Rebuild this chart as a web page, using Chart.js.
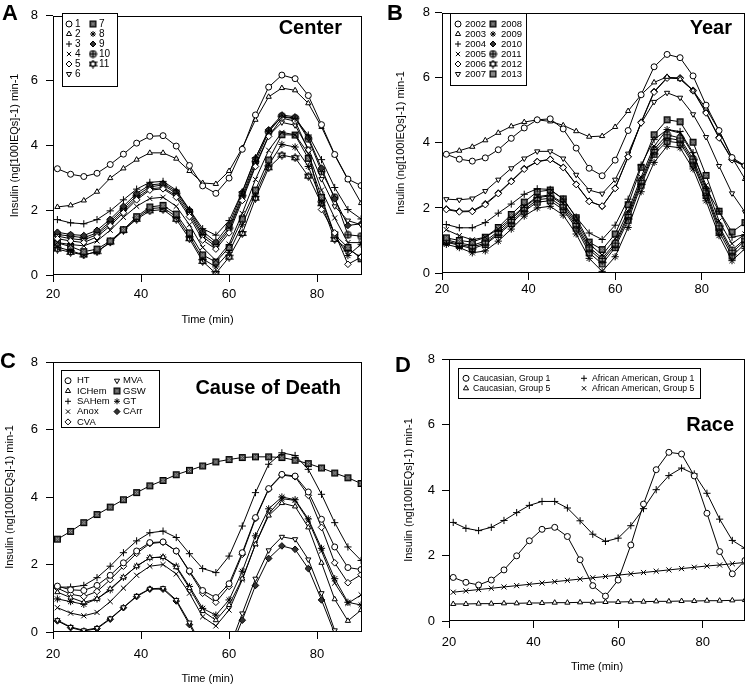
<!DOCTYPE html>
<html lang="en">
<head>
<meta charset="UTF-8">
<title>Insulin secretion curves</title>
<script src="https://cdn.jsdelivr.net/npm/chart.js"></script>
<style>
    body {
        margin: 0;
        background: #fff;
        font-family: "Liberation Sans", Arial, sans-serif;
        color: #000;
    }
    #page {
        position: relative;
        width: 750px;
        height: 685px;
        overflow: hidden;
    }
    canvas { position: absolute; }
    .letter {
        position: absolute;
        font-size: 22px;
        font-weight: bold;
        line-height: 1;
    }
    .ptitle {
        position: absolute;
        font-size: 20px;
        font-weight: bold;
        line-height: 1;
        white-space: nowrap;
    }
</style>
</head>
<body>
<div id="page">
    <canvas id="chartA" width="375" height="335" style="left:0;top:0"></canvas>
    <canvas id="chartB" width="375" height="320" style="left:375px;top:0"></canvas>
    <canvas id="chartC" width="375" height="350" style="left:0;top:340px"></canvas>
    <canvas id="chartD" width="375" height="350" style="left:375px;top:340px"></canvas>

    <div class="letter" style="left:2px;top:2px">A</div>
    <div class="letter" style="left:387px;top:2px">B</div>
    <div class="letter" style="left:0;top:350px">C</div>
    <div class="letter" style="left:395px;top:354px">D</div>

    <div class="ptitle" style="right:408px;top:17px">Center</div>
    <div class="ptitle" style="right:18px;top:17px">Year</div>
    <div class="ptitle" style="right:409px;top:377px">Cause of Death</div>
    <div class="ptitle" style="right:16px;top:414px">Race</div>
</div>

<script>
// time points (min)
const times = [21, 24, 27, 30, 33, 36, 39, 42, 45, 48, 51, 54, 57, 60, 63, 66, 69, 72, 75, 78, 81, 84, 87, 90];
const xTicks = [20, 40, 60, 80];
const yTicks = [0, 2, 4, 6, 8];

// A - center
const centerLabels = ['1', '2', '3', '4', '5', '6', '7', '8', '9', '10', '11'];
const centerValues = [
    [3.28, 3.11, 3.04, 3.14, 3.41, 3.73, 4.07, 4.28, 4.30, 3.98, 3.38, 2.75, 2.52, 2.99, 3.88, 4.94, 5.80, 6.17, 6.06, 5.54, 4.64, 3.72, 2.96, 2.76],
    [2.10, 2.15, 2.30, 2.57, 2.99, 3.29, 3.56, 3.77, 3.77, 3.59, 3.21, 2.84, 2.81, 3.21, 3.92, 4.79, 5.50, 5.77, 5.70, 5.30, 4.57, 3.70, 2.94, 2.22],
    [1.71, 1.61, 1.58, 1.71, 1.98, 2.32, 2.65, 2.86, 2.89, 2.62, 2.02, 1.43, 1.23, 1.68, 2.57, 3.62, 4.45, 4.88, 4.82, 4.32, 3.56, 2.70, 2.02, 1.73],
    [1.00, 0.94, 0.90, 1.05, 1.38, 1.78, 2.12, 2.36, 2.40, 2.12, 1.55, 0.85, 0.45, 0.95, 1.90, 2.95, 3.85, 4.40, 4.33, 3.75, 2.62, 1.76, 1.00, 1.00],
    [1.12, 1.05, 1.00, 1.18, 1.52, 1.92, 2.32, 2.62, 2.66, 2.40, 1.80, 1.08, 0.80, 1.30, 2.30, 3.35, 4.28, 4.84, 4.75, 3.85, 2.02, 1.30, 0.33, 0.55],
    [1.20, 1.12, 1.08, 1.25, 1.58, 1.98, 2.38, 2.66, 2.70, 2.45, 1.88, 1.18, 0.88, 1.38, 2.38, 3.40, 4.30, 4.71, 4.62, 3.90, 2.96, 2.12, 1.68, 1.55],
    [0.99, 0.88, 0.72, 0.80, 1.05, 1.40, 1.80, 2.10, 2.15, 1.88, 1.30, 0.62, 0.40, 0.85, 1.73, 2.62, 3.55, 4.33, 4.32, 3.60, 2.40, 1.24, 0.85, 0.50],
    [0.86, 0.75, 0.62, 0.72, 1.00, 1.38, 1.75, 2.05, 2.08, 1.80, 1.20, 0.50, 0.25, 0.70, 1.55, 2.50, 3.40, 4.03, 3.95, 3.35, 2.30, 1.24, 0.60, 0.95],
    [1.32, 1.25, 1.22, 1.38, 1.72, 2.12, 2.52, 2.78, 2.82, 2.58, 2.00, 1.35, 1.02, 1.55, 2.55, 3.60, 4.48, 4.94, 4.88, 4.25, 3.30, 2.35, 1.53, 1.58],
    [1.25, 1.20, 1.15, 1.30, 1.65, 2.05, 2.45, 2.72, 2.78, 2.52, 1.95, 1.25, 0.95, 1.45, 2.45, 3.50, 4.42, 4.90, 4.84, 4.20, 3.20, 2.40, 1.24, 1.20],
    [0.80, 0.70, 0.62, 0.72, 1.02, 1.38, 1.72, 1.98, 2.02, 1.72, 1.12, 0.42, 0.05, 0.55, 1.28, 2.37, 3.31, 3.70, 3.62, 3.05, 2.20, 1.10, 0.80, 0.55]
];

// B - year
const yearLabels = ['2002', '2003', '2004', '2005', '2006', '2007', '2008', '2009', '2010', '2011', '2012', '2013'];
const yearValues = [
    [3.65, 3.50, 3.44, 3.54, 3.79, 4.14, 4.46, 4.71, 4.74, 4.43, 3.84, 3.22, 2.99, 3.47, 4.38, 5.48, 6.34, 6.72, 6.62, 6.06, 5.16, 4.38, 3.55, 3.30],
    [3.65, 3.76, 3.88, 4.08, 4.31, 4.51, 4.64, 4.71, 4.66, 4.54, 4.36, 4.19, 4.21, 4.49, 4.98, 5.48, 5.86, 6.03, 5.96, 5.61, 5.06, 4.38, 3.55, 2.89],
    [1.49, 1.39, 1.39, 1.55, 1.84, 2.12, 2.42, 2.59, 2.57, 2.27, 1.72, 1.23, 1.03, 1.47, 2.27, 3.32, 4.10, 4.41, 4.35, 3.70, 2.60, 1.90, 1.10, 1.18],
    [1.33, 1.15, 1.02, 1.10, 1.35, 1.70, 2.05, 2.35, 2.40, 2.15, 1.60, 0.90, 0.55, 1.05, 1.90, 2.95, 3.90, 4.41, 4.30, 3.65, 2.70, 1.60, 0.90, 1.20],
    [1.95, 1.88, 1.89, 2.10, 2.44, 2.81, 3.19, 3.42, 3.49, 3.24, 2.72, 2.20, 2.06, 2.60, 3.57, 4.62, 5.56, 5.99, 5.98, 5.60, 4.92, 4.15, 3.48, 3.28],
    [2.27, 2.25, 2.29, 2.52, 2.87, 3.22, 3.52, 3.74, 3.74, 3.52, 3.02, 2.55, 2.44, 2.87, 3.67, 4.60, 5.26, 5.54, 5.39, 4.88, 4.18, 3.29, 2.45, 1.87],
    [1.08, 1.00, 0.95, 1.10, 1.40, 1.80, 2.18, 2.50, 2.55, 2.28, 1.70, 0.95, 0.72, 1.20, 2.10, 3.25, 4.25, 4.71, 4.65, 4.02, 3.00, 1.90, 1.26, 1.55],
    [0.88, 0.78, 0.62, 0.68, 0.98, 1.35, 1.75, 2.00, 2.05, 1.78, 1.20, 0.45, 0.05, 0.50, 1.40, 2.50, 3.40, 3.90, 3.85, 3.20, 2.22, 1.15, 0.38, 0.75],
    [1.97, 1.90, 1.91, 2.13, 2.46, 2.83, 3.21, 3.43, 3.50, 3.25, 2.73, 2.21, 2.05, 2.61, 3.58, 4.64, 5.58, 6.01, 6.00, 5.62, 4.95, 4.17, 3.50, 3.30],
    [1.02, 0.92, 0.85, 0.98, 1.28, 1.65, 2.02, 2.32, 2.37, 2.10, 1.52, 0.80, 0.45, 0.92, 1.80, 2.85, 3.80, 4.25, 4.15, 3.50, 2.55, 1.45, 0.70, 1.05],
    [0.98, 0.88, 0.80, 0.92, 1.22, 1.58, 1.95, 2.25, 2.30, 2.02, 1.45, 0.72, 0.38, 0.85, 1.72, 2.78, 3.72, 4.15, 4.08, 3.42, 2.45, 1.38, 0.62, 1.00],
    [0.95, 0.85, 0.75, 0.88, 1.18, 1.52, 1.90, 2.18, 2.22, 1.95, 1.38, 0.62, 0.28, 0.78, 1.62, 2.70, 3.65, 4.05, 4.00, 3.35, 2.38, 1.28, 0.52, 0.90]
];

// C - cause of death
const causeLabels = ['HT', 'ICHem', 'SAHem', 'Anox', 'CVA', 'MVA', 'GSW', 'GT', 'CArr'];
const causeValues = [
    [1.36, 1.25, 1.23, 1.38, 1.68, 2.05, 2.40, 2.65, 2.67, 2.40, 1.81, 1.23, 1.02, 1.43, 2.35, 3.39, 4.25, 4.67, 4.62, 4.15, 3.34, 2.52, 1.91, 1.85],
    [1.18, 1.02, 0.88, 0.98, 1.28, 1.62, 1.95, 2.20, 2.22, 1.92, 1.30, 0.62, 0.35, 0.80, 1.58, 2.60, 3.45, 3.82, 3.72, 3.10, 2.05, 0.97, 0.33, 0.65],
    [1.33, 1.33, 1.38, 1.61, 1.95, 2.35, 2.70, 2.94, 2.99, 2.80, 2.32, 1.88, 1.76, 2.25, 3.14, 4.13, 4.97, 5.31, 5.23, 4.82, 4.08, 3.24, 2.52, 2.12],
    [0.72, 0.56, 0.48, 0.58, 0.90, 1.30, 1.68, 1.95, 2.00, 1.72, 1.15, 0.45, 0.18, 0.65, 1.55, 2.60, 3.50, 3.95, 3.90, 3.30, 2.40, 1.45, 0.85, 1.10],
    [1.30, 1.12, 1.05, 1.20, 1.55, 1.95, 2.33, 2.62, 2.66, 2.40, 1.78, 1.15, 0.88, 1.35, 2.30, 3.36, 4.23, 4.65, 4.60, 4.05, 3.10, 2.05, 1.46, 1.70],
    [0.35, 0.15, 0.05, 0.12, 0.40, 0.73, 1.07, 1.28, 1.30, 0.95, 0.28, -0.45, -0.80, -0.50, 0.55, 1.58, 2.42, 2.82, 2.75, 2.15, 1.15, 0.05, -0.80, -1.00],
    [2.75, 2.98, 3.24, 3.48, 3.70, 3.92, 4.13, 4.33, 4.49, 4.66, 4.79, 4.92, 5.04, 5.11, 5.17, 5.19, 5.19, 5.17, 5.09, 4.99, 4.86, 4.71, 4.57, 4.40],
    [0.98, 0.90, 0.82, 0.98, 1.25, 1.62, 1.95, 2.20, 2.22, 1.95, 1.35, 0.70, 0.50, 0.95, 1.80, 2.85, 3.65, 4.00, 3.92, 3.35, 2.48, 1.58, 0.88, 0.80],
    [0.33, 0.13, 0.03, 0.10, 0.38, 0.72, 1.05, 1.27, 1.27, 0.92, 0.22, -0.50, -0.85, -0.60, 0.35, 1.38, 2.18, 2.55, 2.45, 1.88, 0.95, -0.05, -0.90, -1.10]
];

// D - race
const raceLabels = ['Caucasian, Group 1', 'Caucasian, Group 5', 'African American, Group 1', 'African American, Group 5'];
const raceValues = [
    [1.33, 1.18, 1.10, 1.25, 1.56, 1.99, 2.45, 2.80, 2.86, 2.58, 1.87, 1.08, 0.76, 1.25, 2.32, 3.57, 4.62, 5.15, 5.10, 4.43, 3.29, 2.12, 1.44, 1.85],
    [0.52, 0.52, 0.53, 0.53, 0.54, 0.54, 0.55, 0.55, 0.56, 0.56, 0.57, 0.57, 0.58, 0.58, 0.59, 0.59, 0.60, 0.60, 0.61, 0.61, 0.62, 0.62, 0.63, 0.64],
    [3.01, 2.83, 2.76, 2.86, 3.07, 3.31, 3.53, 3.65, 3.65, 3.45, 3.06, 2.65, 2.43, 2.53, 2.91, 3.43, 4.01, 4.44, 4.67, 4.49, 3.90, 3.11, 2.46, 2.22],
    [0.88, 0.92, 0.96, 1.00, 1.04, 1.08, 1.12, 1.16, 1.20, 1.24, 1.28, 1.32, 1.36, 1.40, 1.44, 1.48, 1.52, 1.56, 1.60, 1.64, 1.68, 1.71, 1.75, 1.79]
];

const FONT = '"Liberation Sans", Arial, sans-serif';
Chart.defaults.font.family = FONT;
Chart.defaults.color = '#000';

// little marker images for the symbols chart.js does not have
function marker(kind) {
    const c = document.createElement('canvas');
    c.width = 9; c.height = 9;
    const g = c.getContext('2d');
    g.strokeStyle = '#000';
    g.lineWidth = 1;
    if (kind === 'sq') {
        g.fillStyle = '#444';
        g.fillRect(1, 1, 7, 7);
        g.strokeRect(1.5, 1.5, 6, 6);
        g.strokeStyle = '#aaa';
        g.beginPath();
        g.moveTo(3, 3); g.lineTo(6, 6);
        g.moveTo(6, 3); g.lineTo(3, 6);
        g.stroke();
    } else if (kind === 'sqlines') {
        g.fillStyle = '#555';
        g.fillRect(1, 1, 7, 7);
        g.strokeRect(1.5, 1.5, 6, 6);
        g.strokeStyle = '#bbb';
        g.beginPath();
        g.moveTo(3.5, 2.5); g.lineTo(3.5, 6.5);
        g.moveTo(5.5, 2.5); g.lineTo(5.5, 6.5);
        g.stroke();
    } else if (kind === 'circplus') {
        g.fillStyle = '#999';
        g.beginPath();
        g.arc(4.5, 4.5, 3.5, 0, Math.PI * 2);
        g.fill(); g.stroke();
        g.beginPath();
        g.moveTo(1, 4.5); g.lineTo(8, 4.5);
        g.moveTo(4.5, 1); g.lineTo(4.5, 8);
        g.stroke();
    } else if (kind === 'star6') {
        g.fillStyle = '#777';
        g.beginPath();
        g.moveTo(4.5, 0.5); g.lineTo(8.3, 6.5); g.lineTo(0.7, 6.5); g.closePath();
        g.moveTo(4.5, 8.5); g.lineTo(8.3, 2.5); g.lineTo(0.7, 2.5); g.closePath();
        g.fill(); g.stroke();
    }
    return c;
}

const M = {
    circle:   { s: 'circle' },
    tri:      { s: 'triangle' },
    plus:     { s: 'cross', rad: 3.6 },
    times:    { s: 'crossRot', rad: 3.6 },
    diamond:  { s: 'rectRot', rad: 3.3 },
    triDown:  { s: 'triangle', r: 180 },
    square:   { s: marker('sq') },
    star:     { s: 'star', rad: 3.6 },
    diamondF: { s: 'rectRot', rad: 3.3, f: '#333' },
    circPlus: { s: marker('circplus') },
    star6:    { s: marker('star6') },
    sqLines:  { s: marker('sqlines') }
};

// frame around the plot region
const frame = {
    id: 'frame',
    afterDatasetsDraw(chart) {
        const a = chart.chartArea;
        const ctx = chart.ctx;
        ctx.save();
        ctx.strokeStyle = '#000';
        ctx.lineWidth = 1;
        const l = Math.round(a.left) + 0.5, t = Math.round(a.top) + 0.5;
        const r = Math.round(a.right) - 0.5, b = Math.round(a.bottom) - 0.5;
        ctx.strokeRect(l, t, r - l, b - t);
        ctx.restore();
    }
};

// boxed two-column legend inside the plot
const boxLegend = {
    id: 'boxLegend',
    afterDraw(chart, args, o) {
        if (!o || !o.box) return;
        const ctx = chart.ctx;
        const [bx, by, bw, bh] = o.box;
        ctx.save();
        ctx.fillStyle = '#fff';
        ctx.fillRect(bx, by, bw, bh);
        ctx.strokeStyle = '#000';
        ctx.lineWidth = 1;
        ctx.strokeRect(bx + 0.5, by + 0.5, bw, bh);
        ctx.font = o.font + 'px ' + FONT;
        ctx.textBaseline = 'middle';
        chart.data.datasets.forEach((ds, i) => {
            const col = i < o.perCol ? 0 : 1;
            const row = col ? i - o.perCol : i;
            const mx = o.cols[col][0], tx = o.cols[col][1];
            const y = o.rowY + row * o.rowH;
            ctx.fillStyle = ds.pointBackgroundColor;
            ctx.strokeStyle = '#000';
            ctx.lineWidth = 1;
            Chart.helpers.drawPoint(ctx, {
                pointStyle: ds.pointStyle,
                rotation: ds.pointRotation || 0,
                radius: Math.min(ds.pointRadius, 3),
                borderWidth: 1
            }, mx, y);
            ctx.fillStyle = '#000';
            ctx.fillText(ds.label, tx, y);
        });
        ctx.restore();
    }
};

function panel(id, labels, values, marks, lay) {
    const datasets = values.map((v, i) => ({
        label: labels[i],
        data: v.map((y, k) => ({ x: times[k], y: y })),
        borderColor: '#000',
        borderWidth: 1,
        tension: 0,
        fill: false,
        pointStyle: marks[i].s,
        pointRotation: marks[i].r || 0,
        pointRadius: marks[i].rad || 3,
        pointBackgroundColor: marks[i].f || '#fff',
        pointBorderColor: '#000',
        pointBorderWidth: 1,
        clip: 0
    }));

    new Chart(document.getElementById(id), {
        type: 'line',
        data: { datasets: datasets },
        options: {
            responsive: false,
            animation: false,
            events: [],
            layout: { padding: lay.pad },
            scales: {
                x: {
                    type: 'linear',
                    min: 20,
                    max: lay.xMax,
                    afterBuildTicks: s => { s.ticks = xTicks.map(v => ({ value: v })); },
                    ticks: { padding: lay.xTickPad, maxRotation: 0, font: { size: 13 }, color: '#000' },
                    grid: { drawOnChartArea: false, drawTicks: true, tickLength: 7, color: '#000' },
                    border: { display: false },
                    title: {
                        display: lay.xTitle,
                        text: 'Time (min)',
                        font: { size: 11 },
                        color: '#000',
                        padding: { top: 0, bottom: lay.xTitlePad }
                    },
                    afterFit: s => { s.height = lay.xH; }
                },
                y: {
                    min: 0,
                    max: 8,
                    afterBuildTicks: s => { s.ticks = yTicks.map(v => ({ value: v })); },
                    ticks: { padding: lay.yTickPad, font: { size: 13 }, color: '#000' },
                    grid: { drawOnChartArea: false, drawTicks: true, tickLength: 7, color: '#000' },
                    border: { display: false },
                    title: {
                        display: true,
                        text: 'Insulin (ng[100IEQs]-1) min-1',
                        font: { size: 11 },
                        color: '#000',
                        padding: { top: lay.yTitlePad, bottom: 0 }
                    },
                    afterFit: s => { s.width = lay.yW; }
                }
            },
            plugins: {
                legend: { display: false },
                tooltip: { enabled: false },
                boxLegend: lay.legend
            }
        },
        plugins: [frame, boxLegend]
    });
}

panel('chartA', centerLabels, centerValues,
    [M.circle, M.tri, M.plus, M.times, M.diamond, M.triDown, M.square, M.star, M.diamondF, M.circPlus, M.star6],
    {
        pad: { top: 5, right: 13, left: 0, bottom: 0 },
        xMax: 90.2, yW: 53, xH: 60, yTickPad: 8, xTickPad: 5, yTitlePad: 8.4,
        xTitle: true, xTitlePad: 8.4,
        legend: { box: [62, 13, 55, 73], perCol: 6, cols: [[69, 75], [93, 99]], rowY: 24, rowH: 10, font: 10 }
    });

panel('chartB', yearLabels, yearValues,
    [M.circle, M.tri, M.plus, M.times, M.diamond, M.triDown, M.square, M.star, M.diamondF, M.circPlus, M.star6, M.sqLines],
    {
        pad: { top: 5, right: 2, left: 0, bottom: 0 },
        xMax: 90, yW: 67, xH: 47, yTickPad: 5, xTickPad: 2, yTitlePad: 19.4,
        xTitle: false, xTitlePad: 0,
        legend: { box: [75, 13, 76, 72], perCol: 6, cols: [[83, 90], [118, 126]], rowY: 24, rowH: 10, font: 9.5 }
    });

panel('chartC', causeLabels, causeValues,
    [M.circle, M.tri, M.plus, M.times, M.diamond, M.triDown, M.square, M.star, M.diamondF],
    {
        pad: { top: 22, right: 13, left: 0, bottom: 0 },
        xMax: 90.2, yW: 53, xH: 58, yTickPad: 8, xTickPad: 8, yTitlePad: 3.4,
        xTitle: true, xTitlePad: 4.4,
        legend: { box: [61, 30, 98, 57], perCol: 5, cols: [[68, 77], [117, 123]], rowY: 40.7, rowH: 10.3, font: 9.5 }
    });

panel('chartD', raceLabels, raceValues,
    [M.circle, M.tri, M.plus, M.times],
    {
        pad: { top: 19, right: 1, left: 0, bottom: 0 },
        xMax: 90, yW: 74, xH: 69, yTickPad: 7, xTickPad: 7, yTitlePad: 27,
        xTitle: true, xTitlePad: 16.4,
        legend: { box: [83, 28, 242, 30], perCol: 2, cols: [[91, 98], [209, 217]], rowY: 38.3, rowH: 10, font: 8.7 }
    });
</script>
</body>
</html>
